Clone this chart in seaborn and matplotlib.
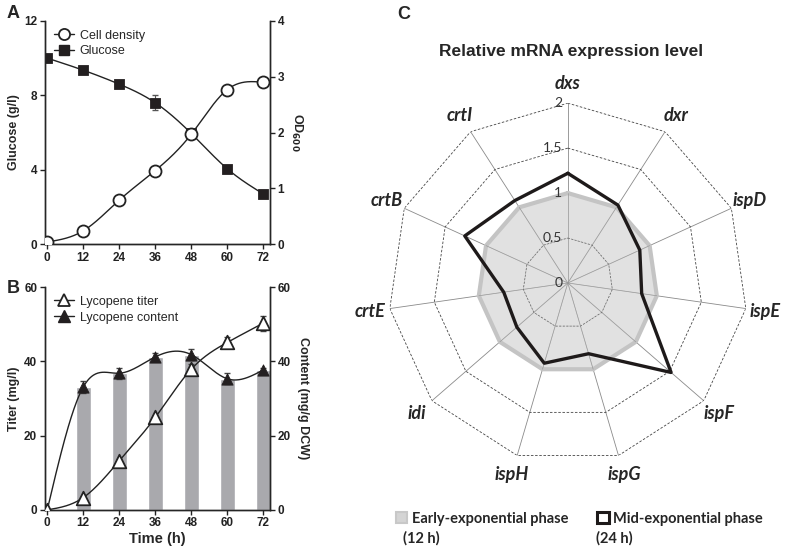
import numpy as np
import matplotlib
matplotlib.use('Agg')
import matplotlib.pyplot as plt
import seaborn as sns
from matplotlib.patches import Patch

# ---- data ----
time_h = [0, 12, 24, 36, 48, 60, 72]
glucose = [10.0, 9.35, 8.6, 7.6, 5.95, 4.05, 2.7]
glucose_err = [0, 0, 0, 0.4, 0, 0, 0]
od600 = [0.04, 0.24, 0.79, 1.32, 1.97, 2.77, 2.9]

titer = [0, 3.3, 13.2, 24.9, 37.9, 45.1, 50.3]
titer_err = [0, 0, 0, 0, 1.5, 1.5, 2.0]
content = [0, 33.1, 36.8, 41.2, 41.8, 35.3, 37.7]
content_err = [0, 1.5, 1.5, 1.0, 1.5, 1.5, 0.5]

genes = ['dxs', 'dxr', 'ispD', 'ispE', 'ispF', 'ispG', 'ispH', 'idi', 'crtE', 'crtB', 'crtI']
early = [1, 1, 1, 1, 1, 1, 1, 1, 1, 1, 1]
mid = [1.22, 1.03, 0.88, 0.83, 1.52, 0.82, 0.93, 0.75, 0.72, 1.26, 1.09]
radial_ticks = [0, 0.5, 1, 1.5, 2]


def smooth(x, y, n=300):
    # natural cubic spline, just for drawing the connecting curve
    x = np.asarray(x, float)
    y = np.asarray(y, float)
    h = np.diff(x)
    m = len(x)
    A = np.zeros((m, m))
    r = np.zeros(m)
    A[0, 0] = A[-1, -1] = 1
    for i in range(1, m - 1):
        A[i, i - 1] = h[i - 1]
        A[i, i] = 2 * (h[i - 1] + h[i])
        A[i, i + 1] = h[i]
        r[i] = 3 * ((y[i + 1] - y[i]) / h[i] - (y[i] - y[i - 1]) / h[i - 1])
    c = np.linalg.solve(A, r)
    b = (y[1:] - y[:-1]) / h - h * (2 * c[:-1] + c[1:]) / 3
    d = (c[1:] - c[:-1]) / (3 * h)
    xs = np.linspace(x[0], x[-1], n)
    idx = np.clip(np.searchsorted(x, xs) - 1, 0, m - 2)
    dx = xs - x[idx]
    return xs, y[idx] + b[idx] * dx + c[idx] * dx ** 2 + d[idx] * dx ** 3


sns.set_style('ticks')
plt.rcParams['font.family'] = ['Liberation Sans', 'DejaVu Sans']
plt.rcParams['axes.linewidth'] = 1.0
plt.rcParams['xtick.major.size'] = 3.5
plt.rcParams['ytick.major.size'] = 3.5

fig = plt.figure(figsize=(7.87, 5.5), dpi=100)


def style_axes(ax, ax2):
    for a in (ax, ax2):
        a.spines['top'].set_visible(False)
        a.tick_params(labelsize=8.5, width=1.0, colors='#222222', pad=2)
        for lab in a.get_xticklabels() + a.get_yticklabels():
            lab.set_fontweight('bold')
    ax2.spines['right'].set_visible(True)


# ---- panel A ----
axA = fig.add_axes([0.057, 0.556, 0.286, 0.406])
axA2 = axA.twinx()

xs, ys = smooth(time_h, glucose)
axA.plot(xs, ys, color='#222222', lw=1.0)
axA.errorbar(time_h, glucose, yerr=glucose_err, fmt='none', ecolor='#555555', elinewidth=0.8, capsize=2)
sns.scatterplot(x=time_h, y=glucose, ax=axA, marker='s', s=55, color='#231f20', edgecolor='#231f20',
                zorder=5)

xs, ys = smooth(time_h, od600)
axA2.plot(xs, ys, color='#222222', lw=1.0)
sns.scatterplot(x=time_h, y=od600, ax=axA2, marker='o', s=75, facecolor='white', edgecolor='#222222',
                linewidth=1.3, zorder=5)

axA.set_xlim(-0.8, 74.2)
axA.set_ylim(0, 12)
axA2.set_ylim(0, 4)
axA.set_xticks(time_h)
axA.set_yticks([0, 4, 8, 12])
axA2.set_yticks([0, 1, 2, 3, 4])
axA.set_ylabel('Glucose (g/l)', fontsize=9, fontweight='bold', labelpad=3)
axA2.set_ylabel('OD$_{\\mathbf{600}}$', fontsize=9, fontweight='bold', rotation=270, labelpad=14)
style_axes(axA, axA2)

legA = [plt.Line2D([], [], color='#222222', lw=1.0, marker='o', mfc='white', mec='#222222', ms=8, mew=1.3),
        plt.Line2D([], [], color='#222222', lw=1.0, marker='s', mfc='#231f20', mec='#231f20', ms=7)]
axA2.legend(legA, ['Cell density', 'Glucose'], loc='upper left', frameon=False, fontsize=9,
            handlelength=1.6, handletextpad=0.5, borderaxespad=0.3, labelspacing=0.3)

# ---- panel B ----
axB = fig.add_axes([0.057, 0.073, 0.286, 0.405])
axB2 = axB.twinx()
axB.set_zorder(axB2.get_zorder() + 1)
axB.patch.set_visible(False)

axB2.bar(time_h[1:], content[1:], width=5.0, color='#a9a9ad', zorder=1)
xs, ys = smooth(time_h, content)
axB2.plot(xs, ys, color='#222222', lw=1.0, zorder=3)
axB2.errorbar(time_h, content, yerr=content_err, fmt='none', ecolor='#444444', elinewidth=0.8, capsize=2,
              zorder=3)
sns.scatterplot(x=time_h, y=content, ax=axB2, marker='^', s=65, color='#231f20', edgecolor='#231f20',
                zorder=5)

xs, ys = smooth(time_h, titer)
axB.plot(xs, ys, color='#222222', lw=1.0)
axB.errorbar(time_h, titer, yerr=titer_err, fmt='none', ecolor='#444444', elinewidth=0.8, capsize=2)
sns.scatterplot(x=time_h, y=titer, ax=axB, marker='^', s=95, facecolor='white', edgecolor='#222222',
                linewidth=1.3, zorder=5)

axB.set_xlim(-0.8, 74.2)
axB.set_ylim(0, 60)
axB2.set_ylim(0, 60)
axB.set_xticks(time_h)
axB.set_yticks([0, 20, 40, 60])
axB2.set_yticks([0, 20, 40, 60])
axB.set_ylabel('Titer (mg/l)', fontsize=9, fontweight='bold', labelpad=3)
axB2.set_ylabel('Content (mg/g DCW)', fontsize=9, fontweight='bold', rotation=270, labelpad=13)
axB.set_xlabel('Time (h)', fontsize=10.5, fontweight='bold', labelpad=2)
style_axes(axB, axB2)

legB = [plt.Line2D([], [], color='#222222', lw=1.0, marker='^', mfc='white', mec='#222222', ms=9, mew=1.3),
        plt.Line2D([], [], color='#222222', lw=1.0, marker='^', mfc='#231f20', mec='#231f20', ms=8)]
axB.legend(legB, ['Lycopene titer', 'Lycopene content'], loc='upper left', frameon=False, fontsize=9,
           handlelength=1.6, handletextpad=0.5, borderaxespad=0.3, labelspacing=0.3)

# ---- panel C : radar ----
axC = fig.add_axes([0.493, 0.158, 0.457, 0.655], projection='polar')
axC.set_theta_zero_location('N')
axC.set_theta_direction(-1)
axC.grid(False)
axC.spines['polar'].set_visible(False)
axC.set_xticks([])
axC.set_yticks([])
axC.set_ylim(0, 2)

angles = np.linspace(0, 2 * np.pi, len(genes), endpoint=False)
closed = np.append(angles, angles[0])

for a in angles:
    axC.plot([a, a], [0, 2], color='#8a8a8a', lw=0.6, zorder=1)
for r in radial_ticks[1:]:
    axC.plot(closed, [r] * len(closed), color='#444444', lw=0.6, ls=(0, (3, 2)), zorder=1)

early_c = np.append(early, early[0])
mid_c = np.append(mid, mid[0])
axC.fill(closed, early_c, color='#dcdcdc', alpha=0.85, zorder=2)
axC.plot(closed, early_c, color='#c4c4c4', lw=3, zorder=3)
for a in angles:
    axC.plot([a, a], [0, 1], color='#9a9a9a', lw=0.5, zorder=3)
axC.plot(closed, [0.5] * len(closed), color='#666666', lw=0.5, ls=(0, (3, 2)), zorder=3)
axC.plot(closed, mid_c, color='#1e1a1a', lw=2.4, zorder=4)

for r in radial_ticks:
    axC.annotate(f'{r:g}', xy=(0, r), xytext=(-4, 0), textcoords='offset points', ha='right', va='center',
                 fontsize=10, color='#333333', family=['Lato', 'DejaVu Sans'], zorder=6)

for a, g in zip(angles, genes):
    axC.text(a, 2.22, g, ha='center', va='center', fontsize=13, fontweight='bold', style='italic',
             family=['Lato', 'DejaVu Sans'])

fig.text(0.725, 0.907, 'Relative mRNA expression level', ha='center', va='center', fontsize=12.5,
         fontweight='bold')

legC = [Patch(facecolor='#d4d4d4', edgecolor='#c8c8c8', lw=1.5),
        Patch(facecolor='white', edgecolor='#1e1a1a', lw=2.2)]
fig.legend(legC, ['Early-exponential phase', 'Mid-exponential phase'], loc='center left',
           bbox_to_anchor=(0.486, 0.057), ncol=2, frameon=False,
           prop={'family': ['Lato', 'DejaVu Sans'], 'weight': 'bold', 'size': 10.5},
           handlelength=0.8, handleheight=0.8, handletextpad=0.3, columnspacing=2.0)
fig.text(0.512, 0.022, '(12 h)', ha='left', va='center', fontsize=10.5, fontweight='bold',
         family=['Lato', 'DejaVu Sans'])
fig.text(0.757, 0.022, '(24 h)', ha='left', va='center', fontsize=10.5, fontweight='bold',
         family=['Lato', 'DejaVu Sans'])

# panel letters
fig.text(0.008, 0.975, 'A', fontsize=13, fontweight='bold', ha='left', va='center')
fig.text(0.008, 0.475, 'B', fontsize=13, fontweight='bold', ha='left', va='center')
fig.text(0.505, 0.973, 'C', fontsize=13, fontweight='bold', ha='left', va='center')

fig.savefig('out.png', dpi=100)
